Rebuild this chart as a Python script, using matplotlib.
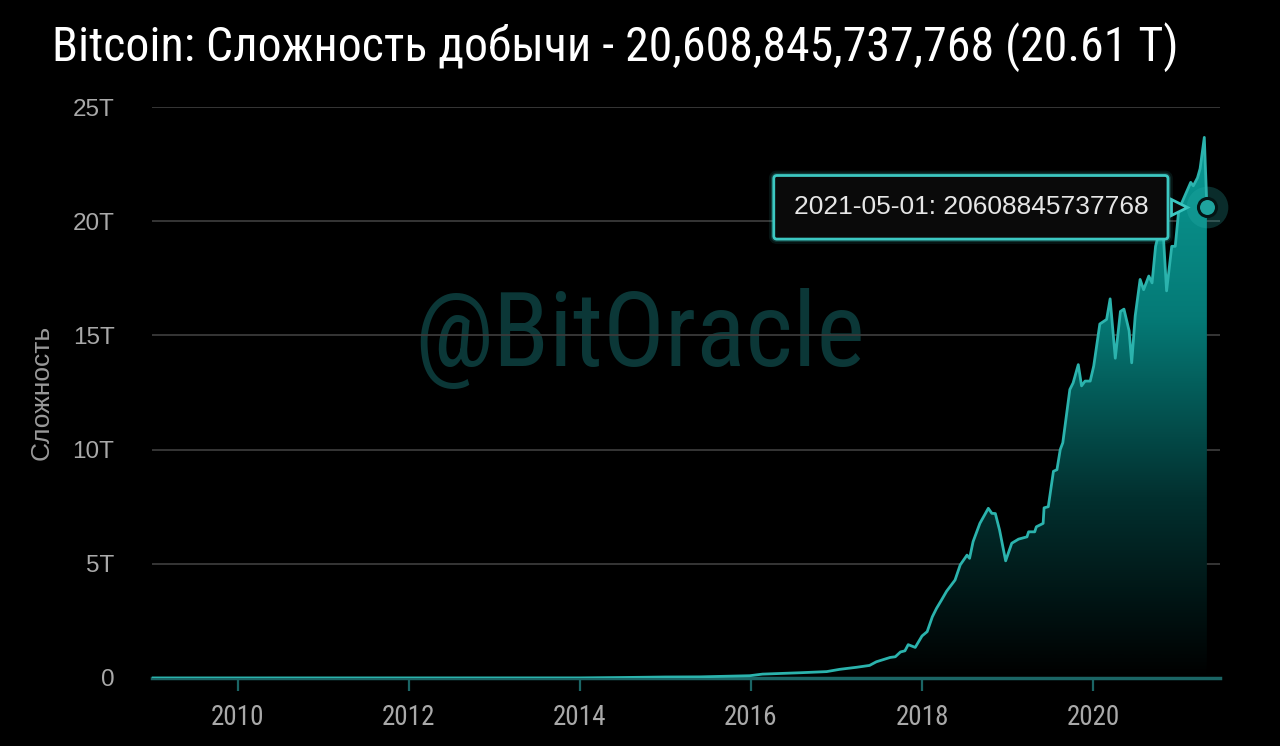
import matplotlib
matplotlib.use('Agg')
import matplotlib.pyplot as plt
import matplotlib.dates as mdates
from matplotlib import font_manager as fm
from matplotlib.colors import LinearSegmentedColormap
import matplotlib.transforms as mtransforms
import numpy as np
import pandas as pd

# ---------------- data (difficulty in trillions) ----------------
dates = [
    '2009-01-03', '2014-01-01', '2014-06-20', '2015-01-01', '2015-05-30', '2015-12-28',
    '2016-02-20', '2016-07-30', '2016-11-20', '2017-01-15', '2017-03-28', '2017-05-22',
    '2017-06-20', '2017-08-18', '2017-09-09', '2017-10-01', '2017-10-20', '2017-11-03',
    '2017-12-03', '2018-01-01', '2018-01-23', '2018-02-14', '2018-03-04', '2018-03-25',
    '2018-04-16', '2018-05-22', '2018-06-13', '2018-07-12', '2018-07-23', '2018-08-07',
    '2018-09-05', '2018-10-11', '2018-10-26', '2018-11-10', '2018-11-28', '2018-12-24',
    '2019-01-19', '2019-02-17', '2019-03-25', '2019-04-01', '2019-04-27', '2019-05-04',
    '2019-06-02', '2019-06-06', '2019-06-24', '2019-07-16', '2019-07-31', '2019-08-14',
    '2019-08-25', '2019-09-24', '2019-10-08', '2019-10-30', '2019-11-13', '2019-11-28',
    '2019-12-20', '2020-01-04', '2020-01-30', '2020-02-28', '2020-03-14', '2020-04-05',
    '2020-04-27', '2020-05-12', '2020-06-03', '2020-06-14', '2020-06-29', '2020-07-20',
    '2020-08-04', '2020-08-26', '2020-09-09', '2020-09-24', '2020-10-23', '2020-11-10',
    '2020-12-02', '2020-12-17', '2021-01-01', '2021-02-21', '2021-03-04', '2021-03-22',
    '2021-04-02', '2021-04-20', '2021-05-01',
]
difficulty_t = [
    0.0, 0.002, 0.02, 0.044, 0.05, 0.1,
    0.17, 0.23, 0.28, 0.38, 0.47, 0.55,
    0.71, 0.9, 0.93, 1.14, 1.19, 1.46,
    1.34, 1.84, 2.03, 2.68, 3.05, 3.41,
    3.8, 4.29, 4.95, 5.38, 5.24, 5.97,
    6.77, 7.43, 7.21, 7.2, 6.48, 5.13,
    5.9, 6.08, 6.18, 6.4, 6.4, 6.62,
    6.77, 7.45, 7.5, 9.05, 9.12, 10.0,
    10.3, 12.63, 12.92, 13.72, 12.79, 13.0,
    13.0, 13.66, 15.5, 15.7, 16.6, 14.0,
    16.05, 16.15, 15.2, 13.8, 15.85, 17.45,
    17.0, 17.6, 17.3, 18.9, 20.1, 16.95,
    18.9, 18.9, 20.5, 21.7, 21.55, 21.9,
    22.3, 23.67, 20.608845737768,
]
tick_years = [2010, 2012, 2014, 2016, 2018, 2020]
y_ticks_t = [0, 5, 10, 15, 20, 25]
title_text = 'Bitcoin: Сложность добычи - 20,608,845,737,768 (20.61 T)'
tooltip_text = '2021-05-01: 20608845737768'
ylabel_text = 'Сложность'
watermark_text = '@BitOracle'

# ---------------- fonts ----------------
names = {f.name for f in fm.fontManager.ttflist}
def pick(cands, default='DejaVu Sans'):
    for c in cands:
        if c in names:
            return c
    return default
cond_font = pick(['Ubuntu Condensed', 'Liberation Sans Narrow', 'Roboto Condensed',
                  'Open Sans Condensed', 'DejaVu Sans'])
sans_font = pick(['Liberation Sans', 'Arial', 'DejaVu Sans'])

# ---------------- figure ----------------
fig = plt.figure(figsize=(12.8, 7.46), dpi=100, facecolor='black')
L, R, B, T = 152, 1220, 678, 107
ax = fig.add_axes([L / 1280, 1 - B / 746, (R - L) / 1280, (B - T) / 746])
ax.set_facecolor('black')

x = mdates.date2num(pd.to_datetime(dates))
y = np.array(difficulty_t) * 1e12

xmin = mdates.date2num(pd.Timestamp('2009-01-01'))
xmax = mdates.date2num(pd.Timestamp('2021-06-26'))
ymax = 25e12
ax.set_xlim(xmin, xmax)
ax.set_ylim(0, ymax)

# gradient area
poly = ax.fill_between(x, y, 0, facecolor='none', edgecolor='none', zorder=2)
cmap = LinearSegmentedColormap.from_list('g', ['#000000', '#02302f', '#057a76', '#0a9a94'])
grad = np.linspace(0, 1, 256).reshape(-1, 1)
im = ax.imshow(grad, aspect='auto', extent=[xmin, xmax, 0, y.max()], origin='lower',
               cmap=cmap, zorder=2, interpolation='bicubic')
im.set_clip_path(poly.get_paths()[0], transform=ax.transData)

ax.plot(x, y, color='#2bb3ad', lw=2.0, zorder=4, solid_joinstyle='round')

# grid
ax.set_yticks([v * 1e12 for v in y_ticks_t])
ax.set_yticklabels(['0' if v == 0 else f'{v}T' for v in y_ticks_t])
ax.yaxis.grid(True, color='#3a3a3a', lw=1.3, zorder=1)
ax.set_axisbelow(True)

ax.set_xticks([mdates.date2num(pd.Timestamp(f'{yr}-01-01')) for yr in tick_years])
ax.set_xticklabels([str(yr) for yr in tick_years])

for s in ['top', 'right', 'left']:
    ax.spines[s].set_visible(False)
ax.spines['bottom'].set_color('#1b6565')
ax.spines['bottom'].set_linewidth(2.5)
ax.spines['bottom'].set_zorder(3)

ax.tick_params(axis='y', length=0, pad=27, labelcolor='#a9a9a9', labelsize=17.5)
for lab in ax.get_yticklabels():
    lab.set_family(sans_font)
ax.tick_params(axis='x', direction='out', length=9, width=1.6, color='#1b6565',
               pad=10, labelcolor='#a9a9a9', labelsize=19.5)
for lab in ax.get_xticklabels():
    lab.set_family(cond_font)

ax.set_ylabel(ylabel_text, color='#9a9a9a', fontsize=19, family=sans_font, labelpad=14)

# watermark
ax.text(0.4565, 0.595, watermark_text, transform=ax.transAxes, ha='center', va='center',
        fontsize=74, color='#0b3737', family=cond_font, zorder=0.5)

# title
fig.text(52 / 1280, 1 - 47 / 746, title_text, ha='left', va='center', color='white',
         fontsize=34.5, family=cond_font)

# tooltip
lx, ly = x[-1], y[-1]
for lw_, a_ in [(7, 0.10), (4, 0.22)]:
    ax.annotate(tooltip_text, xy=(lx, ly), xytext=(-236, 0), textcoords='offset pixels',
                ha='center', va='center', fontsize=19, color='none', family=sans_font,
                bbox=dict(boxstyle='round,pad=0.75,rounding_size=0.12', fc='none',
                          ec='#3cc8c2', lw=lw_, alpha=a_), zorder=6)
ax.annotate(tooltip_text, xy=(lx, ly), xytext=(-236, 0), textcoords='offset pixels',
            ha='center', va='center', fontsize=19, color='#e6e6e6', family=sans_font,
            bbox=dict(boxstyle='round,pad=0.75,rounding_size=0.12', fc='#0a0a0a',
                      ec='#3cc8c2', lw=2.0), zorder=7)
notch_tr = mtransforms.offset_copy(ax.transData, fig=fig, x=-28, y=0, units='dots')
ax.plot([lx], [ly], marker='>', ms=11, mfc='#0a0a0a', mec='#3cc8c2', mew=2.0,
        transform=notch_tr, zorder=8, clip_on=False)

# marker
ax.plot([lx], [ly], marker='o', ms=30, color='#2bb3ad', alpha=0.25, mew=0, zorder=8,
        clip_on=False)
ax.plot([lx], [ly], marker='o', ms=13, mfc='#1fa39e', mec='#041414', mew=2.2, zorder=9,
        clip_on=False)

fig.savefig('out.png', dpi=100, facecolor='black')
